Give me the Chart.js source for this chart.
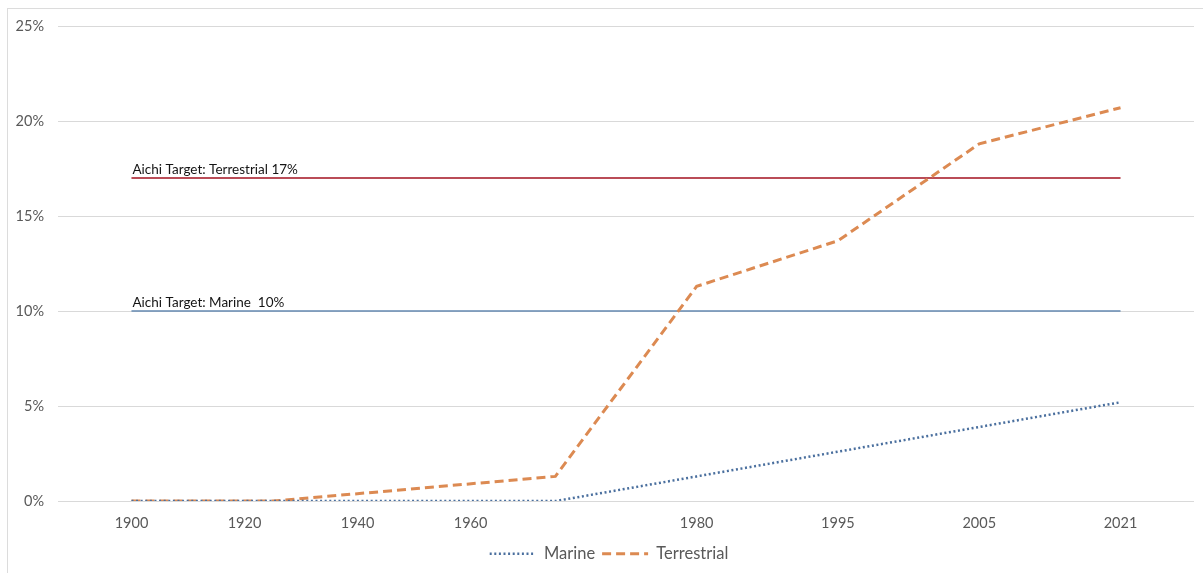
<!DOCTYPE html>
<html>
<head>
<meta charset="utf-8">
<title>Protected area coverage</title>
<script src="https://cdn.jsdelivr.net/npm/chart.js@4/dist/chart.umd.min.js"></script>
<style>
  html, body { margin: 0; padding: 0; background: #fff; }
  #wrap { position: relative; width: 1203px; height: 573px; overflow: hidden; }
  #frame { position: absolute; left: 7px; top: 8px; width: 1300px; height: 700px;
           border-left: 1px solid #dcdcdc; border-top: 1px solid #dcdcdc; pointer-events: none; }
  canvas { position: absolute; left: 0; top: 0; }
</style>
</head>
<body>
<div id="wrap">
  <canvas id="chart" width="1203" height="573"></canvas>
  <div id="frame"></div>
</div>
<script>
// x axis is split into even slots; the year labels sit on some of them
const yearLabels = ['1900', '1920', '1940', '1960', '1980', '1995', '2005', '2021'];
const labelSlots = [0, 4, 8, 12, 20, 25, 30, 35];

// Marine coverage (%)
const marineSlots = [0, 15, 20, 25, 30, 35];
const marinePct = [0, 0, 1.3, 2.6, 3.9, 5.2];

// Terrestrial coverage (%)
const terrestrialSlots = [0, 5, 15, 20, 25, 30, 35];
const terrestrialPct = [0, 0, 1.3, 11.3, 13.7, 18.8, 20.7];

// Aichi targets
const targetNames = ['Aichi Target: Terrestrial 17%', 'Aichi Target: Marine  10%'];
const targetPct = [17, 10];
const targetSpan = [0, 35];

const yTicks = [0, 5, 10, 15, 20, 25];

const FONT = "Lato, 'Open Sans', sans-serif";

function pairs(xs, ys) {
    return xs.map((x, i) => ({ x: x, y: ys[i] }));
}

// writes the target captions just above each target line
const targetCaptions = {
    id: 'targetCaptions',
    afterDatasetsDraw(chart) {
        const ctx = chart.ctx;
        ctx.save();
        ctx.font = '13.5px ' + FONT;
        ctx.fillStyle = '#141414';
        ctx.textBaseline = 'alphabetic';
        chart.data.datasets.forEach((ds, i) => {
            if (!ds.caption) return;
            const pt = chart.getDatasetMeta(i).data[0];
            ctx.fillText(ds.caption, pt.x + 1, pt.y - 4);
        });
        ctx.restore();
    }
};

// legend in the original sits a little right of centre
const legendNudge = {
    id: 'legendNudge',
    afterUpdate(chart) {
        chart.legend.left += 12;
        chart.legend.right += 12;
    }
};

const ctx = document.getElementById('chart');

new Chart(ctx, {
    type: 'line',
    data: {
        datasets: [
            {
                label: 'Marine',
                data: pairs(marineSlots, marinePct),
                borderColor: '#4a6f9e',
                backgroundColor: '#4a6f9e',
                borderWidth: 2.5,
                borderDash: [2, 2.6],
                pointRadius: 0,
                tension: 0
            },
            {
                label: 'Terrestrial',
                data: pairs(terrestrialSlots, terrestrialPct),
                borderColor: '#dc8a52',
                backgroundColor: '#dc8a52',
                borderWidth: 3,
                borderDash: [9, 5],
                pointRadius: 0,
                tension: 0
            },
            {
                label: targetNames[0],
                caption: targetNames[0],
                data: pairs(targetSpan, [targetPct[0], targetPct[0]]),
                borderColor: '#a3101f',
                borderWidth: 1.5,
                pointRadius: 0
            },
            {
                label: targetNames[1],
                caption: targetNames[1],
                data: pairs(targetSpan, [targetPct[1], targetPct[1]]),
                borderColor: '#6389b0',
                borderWidth: 1.5,
                pointRadius: 0
            }
        ]
    },
    options: {
        responsive: false,
        animation: false,
        layout: { padding: { top: 26, right: 9, bottom: 1, left: 0 } },
        scales: {
            x: {
                type: 'linear',
                min: -2.6,
                max: 37.6,
                grid: { display: false },
                border: { display: false },
                afterBuildTicks: (scale) => {
                    scale.ticks = labelSlots.map(v => ({ value: v }));
                },
                ticks: {
                    autoSkip: false,
                    maxRotation: 0,
                    padding: 6,
                    color: '#595959',
                    font: { family: FONT, size: 14.5 },
                    callback: (value) => yearLabels[labelSlots.indexOf(value)]
                }
            },
            y: {
                min: 0,
                max: 25,
                afterFit: (scale) => { scale.width = 58; },
                afterBuildTicks: (scale) => {
                    scale.ticks = yTicks.map(v => ({ value: v }));
                },
                grid: { color: '#d9d9d9', drawTicks: false, lineWidth: 1 },
                border: { display: false },
                ticks: {
                    padding: 14,
                    color: '#595959',
                    font: { family: FONT, size: 14.5 },
                    callback: (value) => value + '%'
                }
            }
        },
        plugins: {
            legend: {
                position: 'bottom',
                labels: {
                    usePointStyle: true,
                    pointStyle: 'line',
                    pointStyleWidth: 46,
                    color: '#595959',
                    padding: 7,
                    font: { family: FONT, size: 16.5 },
                    filter: (item) => item.datasetIndex < 2,
                    generateLabels: (chart) => {
                        const items = Chart.defaults.plugins.legend.labels.generateLabels(chart);
                        items.forEach((item) => {
                            const ds = chart.data.datasets[item.datasetIndex];
                            item.lineDash = ds.borderDash;
                            item.lineWidth = ds.borderWidth;
                            item.strokeStyle = ds.borderColor;
                        });
                        return items;
                    }
                }
            },
            tooltip: { enabled: false }
        }
    },
    plugins: [targetCaptions, legendNudge]
});
</script>
</body>
</html>
